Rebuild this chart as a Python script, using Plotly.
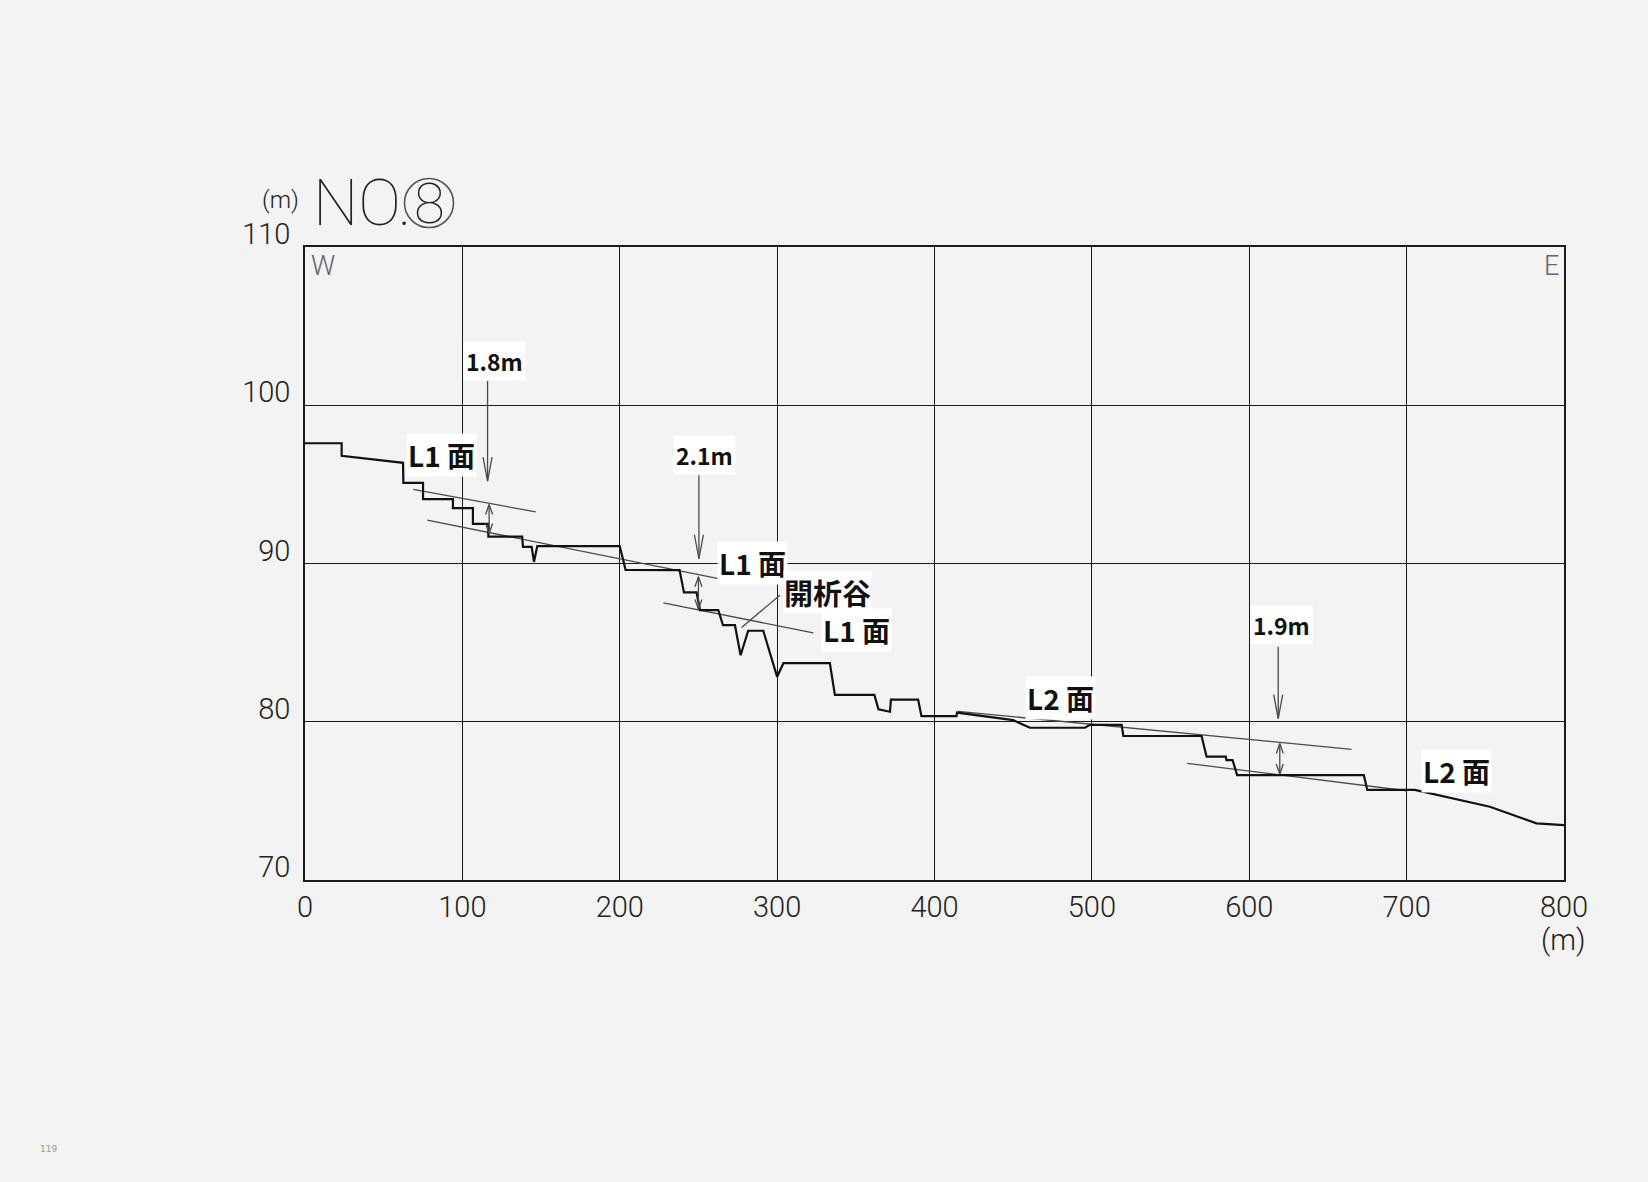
import plotly.graph_objects as go

# ---- ground profile (distance m, elevation m) ----
dist = [0, 23.3, 23.3, 62.3, 62.5, 75, 75, 94, 94, 106.7, 106.7, 116.5, 116.5, 138, 138.5,
        144, 145.5, 147.6, 200, 203.7, 238, 240.8, 248.8, 251, 262.6, 265.6, 273.2, 276.8,
        281.6, 291.2, 300, 304, 333.5, 336.7, 361.8, 364.4, 371.7, 372.3, 389.6, 391.7,
        414, 414.3, 450, 460.6, 495.6, 498.7, 518.9, 520, 569.7, 572.9, 585.1, 585.5,
        589.4, 592.3, 672.8, 675, 705.2, 752.9, 782.5, 800]
elev = [97.6, 97.6, 96.8, 96.36, 95.1, 95.1, 94.07, 94.07, 93.5, 93.5, 92.5, 92.5, 91.7,
        91.7, 91.05, 91.05, 90.1, 91.1, 91.1, 89.6, 89.58, 88.17, 88.17, 87.06, 87.06, 86.1,
        86.1, 84.2, 85.75, 85.75, 82.84, 83.7, 83.7, 81.7, 81.7, 80.78, 80.63, 81.4, 81.4,
        80.36, 80.36, 80.58, 80.1, 79.62, 79.62, 79.8, 79.8, 79.1, 79.1, 77.79, 77.79,
        77.58, 77.58, 76.63, 76.63, 75.69, 75.69, 74.63, 73.58, 73.47]

# ---- terrace surface reference lines ----
surf_lines_x = [[68.8, 146.6], [77.7, 277.8], [227.7, 323.0], [415.0, 665.0], [560.6, 700.0]]
surf_lines_y = [[94.68, 93.26], [92.74, 88.74], [87.51, 85.62], [80.65, 78.26], [77.37, 75.64]]

# ---- surface labels ----
surf_text = ["L1 面", "L1 面", "L1 面", "L2 面", "L2 面"]
surf_x = [86.8, 284.3, 350.4, 480.3, 731.7]
surf_y = [96.85, 90.03, 85.8, 81.5, 76.9]

# ---- scarp heights ----
gap_text = ["1.8m", "2.1m", "1.9m"]
gap_label_x = [120.7, 254.0, 620.5]
gap_label_y = [102.8, 96.85, 86.1]
down_x = [116.0, 250.3, 618.4]
down_top = [101.55, 95.58, 84.74]
down_tip = [95.2, 90.3, 80.2]
dbl_x = [117.0, 250.0, 619.4]
dbl_top = [93.73, 89.16, 78.63]
dbl_bot = [91.9, 87.1, 76.7]

# ---- dissected valley ----
valley_text = "開析谷"
valley_label = (332.3, 88.2)
valley_leader_x = [277.4, 301.8]
valley_leader_y = [85.96, 88.0]

x_ticks = [0, 100, 200, 300, 400, 500, 600, 700, 800]
y_ticks = [70, 80, 90, 100, 110]

# layout geometry
L, R, T, B = 305, 84, 247, 302
W, H = 1648, 1182
pw, ph = W - L - R, H - T - B
pxx = pw / 800.0   # px per metre (x)
pxy = ph / 40.0    # px per metre (y)

GRAY = "#4a4a4a"
BG = "#f3f3f3"


def px(xp):
    return (xp - L) / pw


def py(yp):
    return (H - B - yp) / ph


fig = go.Figure()

for xs, ys in zip(surf_lines_x, surf_lines_y):
    fig.add_trace(go.Scatter(x=xs, y=ys, mode="lines", line=dict(color=GRAY, width=1.3),
                             hoverinfo="skip", showlegend=False))

fig.add_trace(go.Scatter(x=dist, y=elev, mode="lines", line=dict(color="#111111", width=2.2),
                         showlegend=False))

# arrows built from shafts + open V heads
ax, ay = [], []
hl, hw = 24 / pxy, 4.5 / pxx
for x, t, b in zip(down_x, down_top, down_tip):
    ax += [x, x, None, x - hw, x, x + hw, None]
    ay += [t, b, None, b + hl, b, b + hl, None]
hl2, hw2 = 10 / pxy, 3.5 / pxx
for x, t, b in zip(dbl_x, dbl_top, dbl_bot):
    ax += [x, x, None, x - hw2, x, x + hw2, None, x - hw2, x, x + hw2, None]
    ay += [t, b, None, t - hl2, t, t - hl2, None, b + hl2, b, b + hl2, None]
ax += valley_leader_x + [None]
ay += valley_leader_y + [None]
fig.add_trace(go.Scatter(x=ax, y=ay, mode="lines", line=dict(color=GRAY, width=1.3),
                         hoverinfo="skip", showlegend=False))

lab_font = dict(family="Noto Sans CJK JP", size=28, color="#111111", weight="bold")
for t, x, y in zip(surf_text, surf_x, surf_y):
    fig.add_annotation(x=x, y=y, text=t, showarrow=False, font=lab_font,
                       bgcolor="white", borderpad=1)
for t, x, y in zip(gap_text, gap_label_x, gap_label_y):
    fig.add_annotation(x=x, y=y, text=t, showarrow=False,
                       font=dict(family="Noto Sans CJK JP", size=23, color="#111111", weight="bold"),
                       bgcolor="white", borderpad=2)
fig.add_annotation(x=valley_label[0], y=valley_label[1], text=valley_text, showarrow=False,
                   font=dict(family="Noto Sans CJK JP", size=29, color="#111111", weight="bold"),
                   bgcolor="white", borderpad=0)

thin = "Roboto, sans-serif"
fig.add_annotation(xref="paper", yref="paper", x=0, y=1, xanchor="left", yanchor="top",
                   xshift=4, yshift=-1, text="W", showarrow=False,
                   font=dict(family=thin, size=27, color="#666666", weight=300))
fig.add_annotation(xref="paper", yref="paper", x=1, y=1, xanchor="right", yanchor="top",
                   xshift=-3, yshift=-1, text="E", showarrow=False,
                   font=dict(family=thin, size=27, color="#666666", weight=300))
fig.add_annotation(xref="paper", yref="paper", x=px(280), y=py(200), xanchor="center",
                   yanchor="middle", text="(m)", showarrow=False,
                   font=dict(family=thin, size=24, color="#222222", weight=300))
fig.add_annotation(xref="paper", yref="paper", x=px(1563), y=py(940), xanchor="center",
                   yanchor="middle", text="(m)", showarrow=False,
                   font=dict(family=thin, size=29, color="#222222", weight=300))
# title "NO.(8)" with a circled 8
fig.add_annotation(xref="paper", yref="paper", x=px(311), y=py(204),
                   xanchor="left", yanchor="middle", text="NO.", showarrow=False,
                   font=dict(family=thin, size=64, color="#222222", weight=100))
fig.add_annotation(xref="paper", yref="paper", x=px(429), y=py(204),
                   xanchor="center", yanchor="middle", text="8", showarrow=False,
                   font=dict(family=thin, size=56, color="#222222", weight=100))
fig.add_shape(type="circle", xref="paper", yref="paper",
              x0=px(429 - 24.5), x1=px(429 + 24.5), y0=py(203 + 24.5), y1=py(203 - 24.5),
              line=dict(color="#555555", width=1.6))
fig.add_annotation(xref="paper", yref="paper", x=px(48), y=py(1149), xanchor="center",
                   yanchor="middle", text="119", showarrow=False,
                   font=dict(family="DejaVu Sans", size=9, color="#999999"))

axis_common = dict(showgrid=True, gridcolor="#1a1a1a", gridwidth=1.3, zeroline=False,
                   showline=True, linecolor="#1a1a1a", linewidth=1.6, mirror=True, ticks="",
                   tickfont=dict(family=thin, size=29, color="#222222", weight=300))
fig.update_xaxes(range=[0, 800], tickvals=x_ticks, ticklabelstandoff=0, **axis_common)
fig.update_yaxes(range=[70, 110], tickvals=y_ticks, ticklabelstandoff=7, ticklabelshift=-13,
                 **axis_common)

fig.update_layout(width=W, height=H, margin=dict(l=L, r=R, t=T, b=B, autoexpand=False),
                  paper_bgcolor=BG, plot_bgcolor=BG, showlegend=False)

fig.write_html("out.html", config={"displayModeBar": False},
               post_script="document.body.style.margin='0px';"
                           "document.body.style.background='" + BG + "';")
